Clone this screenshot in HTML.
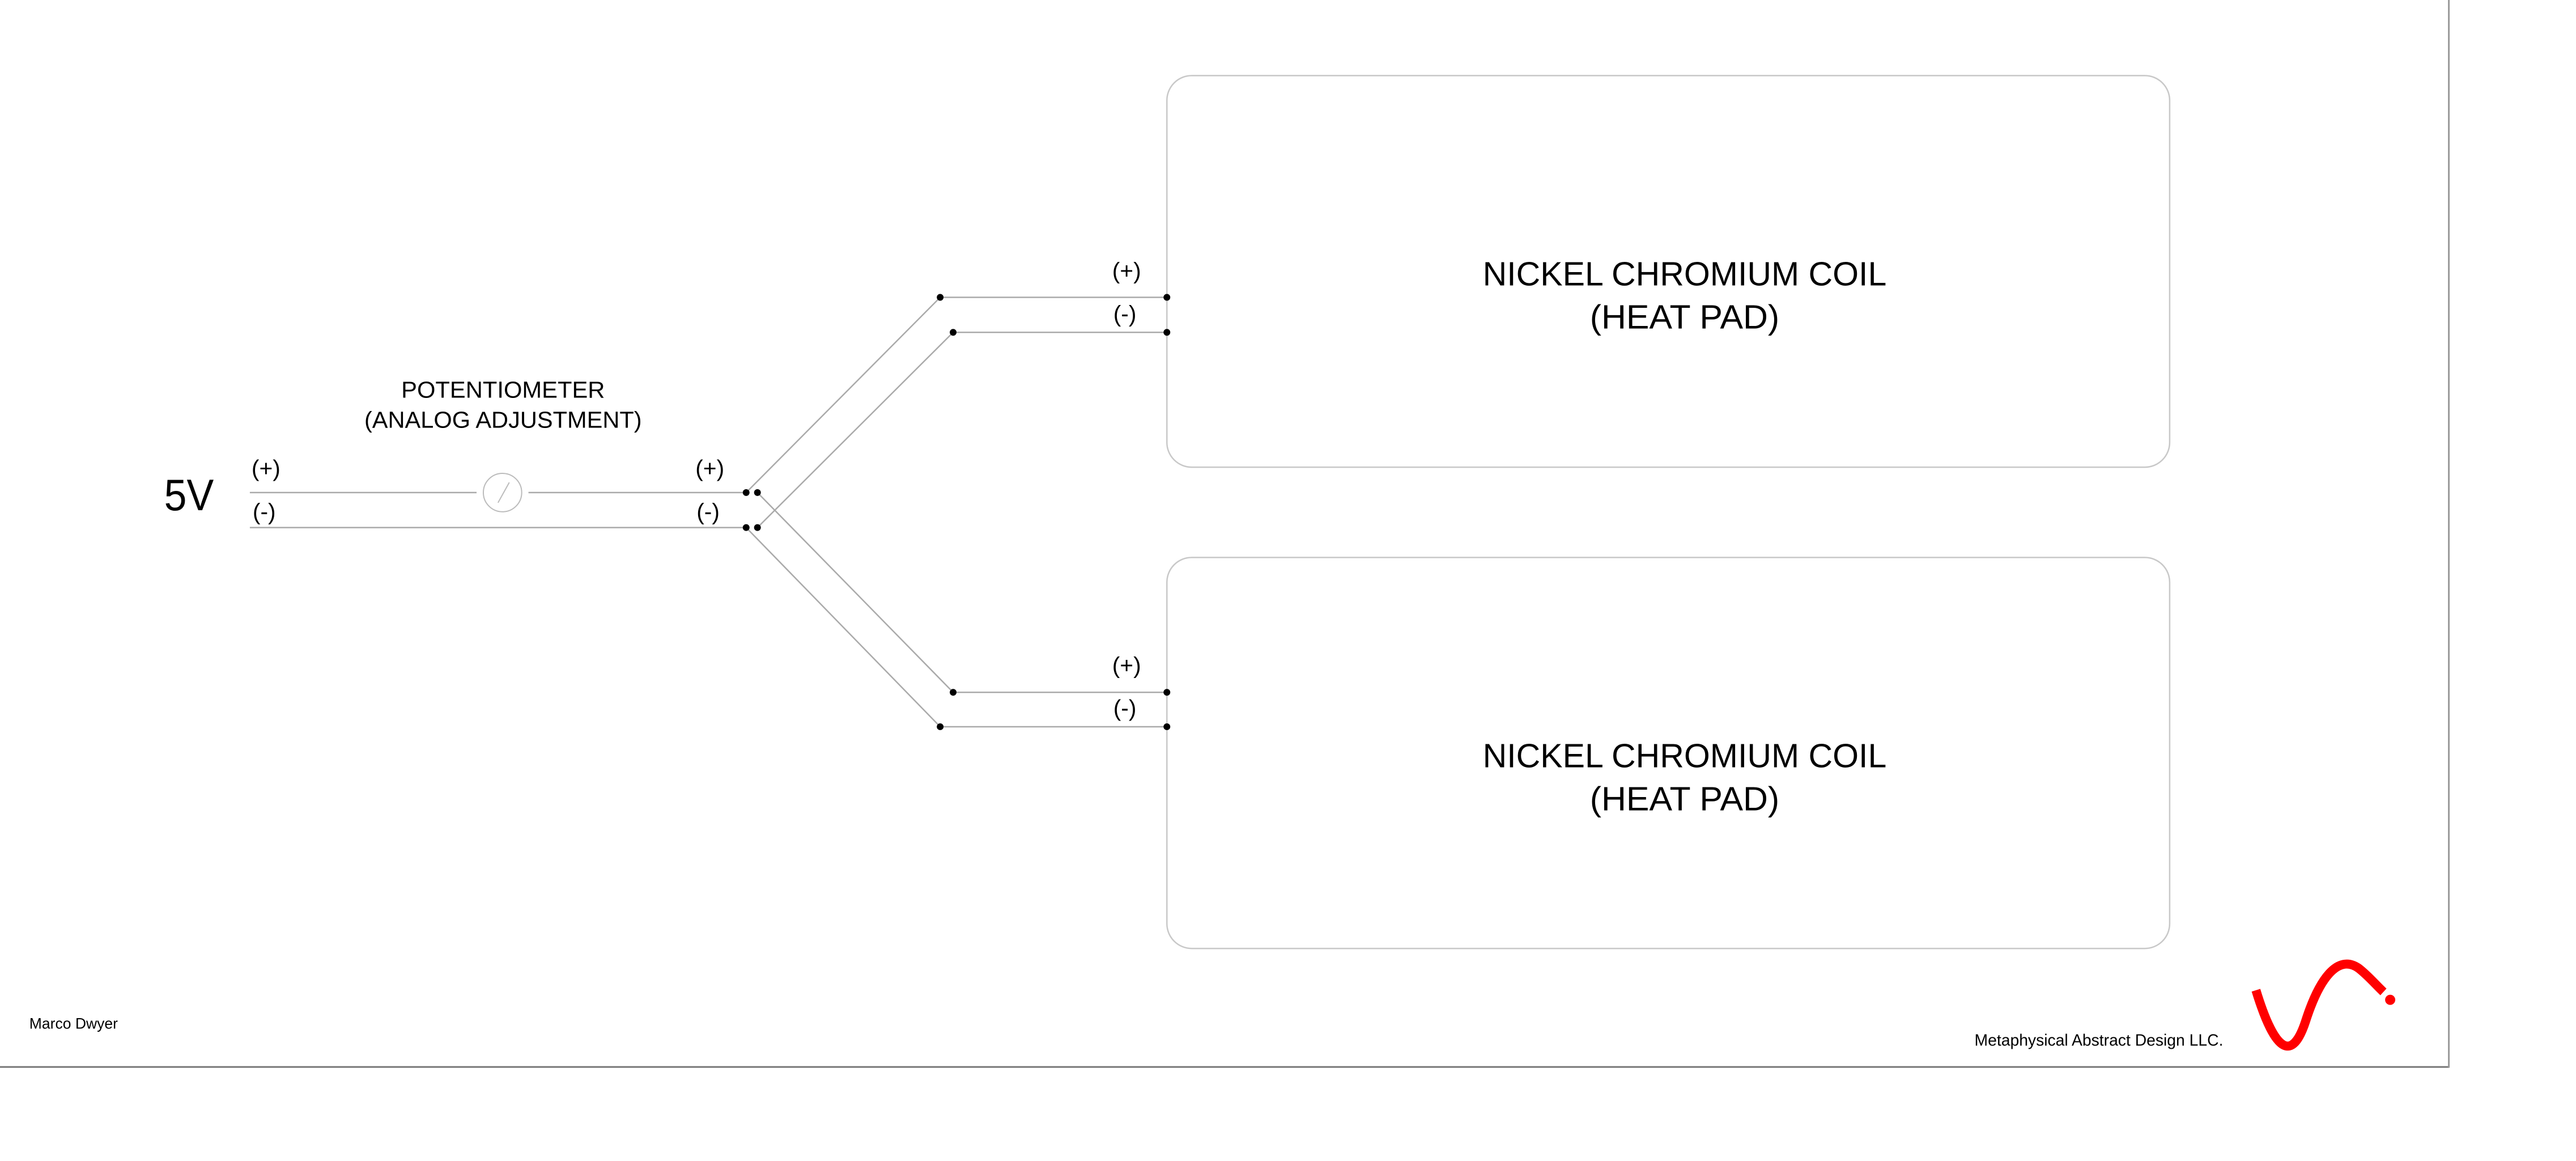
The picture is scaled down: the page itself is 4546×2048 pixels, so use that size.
<!DOCTYPE html>
<html><head><meta charset="utf-8"><style>
html,body{margin:0;padding:0;background:#fff;}
svg{display:block;}
text{font-family:"Liberation Sans",sans-serif;fill:#000;}
</style></head><body>
<svg width="4546" height="2048" viewBox="0 0 4546 2048" xmlns="http://www.w3.org/2000/svg">
<rect width="4546" height="2048" fill="#fff"/>
<g transform="scale(0.9953)">
<!-- frame -->
<line x1="0" y1="1891" x2="4343" y2="1891" stroke="#777" stroke-width="3"/>
<line x1="4342" y1="0" x2="4342" y2="1892" stroke="#999" stroke-width="3"/>
<!-- boxes -->
<rect x="2069" y="134" width="1778" height="694" rx="44" ry="44" fill="none" stroke="#c8c8c8" stroke-width="2.5"/>
<rect x="2069" y="988" width="1778" height="693" rx="44" ry="44" fill="none" stroke="#c8c8c8" stroke-width="2.5"/>
<text x="2987" y="506" font-size="60" text-anchor="middle" textLength="716" lengthAdjust="spacingAndGlyphs">NICKEL CHROMIUM COIL</text>
<text x="2987" y="582" font-size="60" text-anchor="middle" textLength="336" lengthAdjust="spacingAndGlyphs">(HEAT PAD)</text>
<text x="2987" y="1360" font-size="60" text-anchor="middle" textLength="716" lengthAdjust="spacingAndGlyphs">NICKEL CHROMIUM COIL</text>
<text x="2987" y="1436" font-size="60" text-anchor="middle" textLength="336" lengthAdjust="spacingAndGlyphs">(HEAT PAD)</text>
<!-- 5V -->
<text x="291" y="904" font-size="78" textLength="88" lengthAdjust="spacingAndGlyphs">5V</text>
<!-- potentiometer labels -->
<text x="892" y="705" font-size="41" text-anchor="middle" textLength="361" lengthAdjust="spacingAndGlyphs">POTENTIOMETER</text>
<text x="892" y="758" font-size="41" text-anchor="middle" textLength="492" lengthAdjust="spacingAndGlyphs">(ANALOG ADJUSTMENT)</text>
<!-- wires -->
<g stroke="#aaa" stroke-width="2.5" fill="none">
<line x1="443" y1="873" x2="845" y2="873"/>
<line x1="937" y1="873" x2="1323" y2="873"/>
<line x1="443" y1="935" x2="1323" y2="935"/>
<line x1="1323" y1="873" x2="1667" y2="527"/>
<line x1="1343" y1="935" x2="1690" y2="589"/>
<line x1="1343" y1="873" x2="1690" y2="1227"/>
<line x1="1323" y1="935" x2="1667" y2="1288"/>
<line x1="1667" y1="527" x2="2069" y2="527"/>
<line x1="1690" y1="589" x2="2069" y2="589"/>
<line x1="1690" y1="1227" x2="2069" y2="1227"/>
<line x1="1667" y1="1288" x2="2069" y2="1288"/>
</g>
<!-- pot -->
<circle cx="891" cy="873" r="34" fill="none" stroke="#bbb" stroke-width="2"/>
<line x1="883" y1="891" x2="903" y2="855" stroke="#bbb" stroke-width="2"/>
<!-- dots -->
<g fill="#000">
<circle cx="1323" cy="873" r="6"/><circle cx="1343" cy="873" r="6"/>
<circle cx="1323" cy="935" r="6"/><circle cx="1343" cy="935" r="6"/>
<circle cx="1667" cy="527" r="6"/><circle cx="1690" cy="589" r="6"/>
<circle cx="2069" cy="527" r="6"/><circle cx="2069" cy="589" r="6"/>
<circle cx="1690" cy="1227" r="6"/><circle cx="1667" cy="1288" r="6"/>
<circle cx="2069" cy="1227" r="6"/><circle cx="2069" cy="1288" r="6"/>
</g>
<!-- polarity labels -->
<g font-size="41">
<text x="446" y="844">(+)</text>
<text x="448" y="921">(-)</text>
<text x="1233" y="844">(+)</text>
<text x="1235" y="921">(-)</text>
<text x="1972" y="494">(+)</text>
<text x="1974" y="570">(-)</text>
<text x="1972" y="1193">(+)</text>
<text x="1974" y="1269">(-)</text>
</g>
<!-- footer -->
<text x="52" y="1823" font-size="27" textLength="157" lengthAdjust="spacingAndGlyphs">Marco  Dwyer</text>
<text x="3501" y="1853" font-size="29" textLength="441" lengthAdjust="spacingAndGlyphs">Metaphysical  Abstract   Design LLC.</text>
<!-- logo -->
<path d="M4000,1755 C4035,1870 4065,1880 4088,1810 C4112,1735 4145,1690 4182,1716 C4200,1730 4212,1745 4226,1758" fill="none" stroke="#ff0000" stroke-width="16"/>
<ellipse cx="4238" cy="1772" rx="9" ry="9" fill="#ff0000"/>
</g>
</svg>
</body></html>
